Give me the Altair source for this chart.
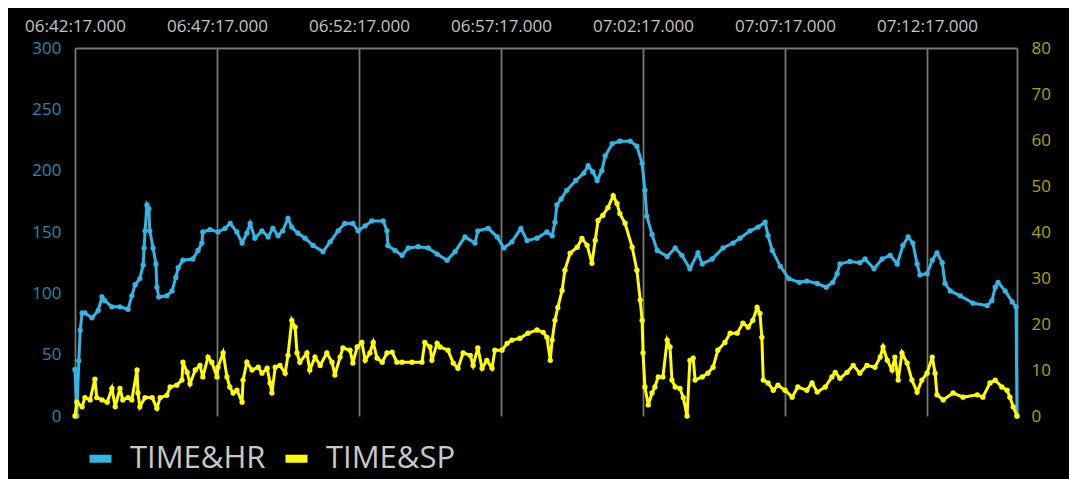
import altair as alt
import pandas as pd

# seconds after 06:42:17 and heart-rate values (TIME&HR)
hr_t = [0, 4, 8, 11, 15, 21, 36, 49, 57, 63,
        78, 95, 112, 120, 127, 137, 144, 146, 148, 152,
        156, 158, 165, 171, 173, 177, 194, 205, 213, 218,
        228, 249, 260, 268, 270, 285, 302, 317, 328, 342,
        353, 363, 370, 380, 395, 408, 418, 429, 439, 450,
        458, 471, 486, 503, 524, 539, 556, 570, 587, 598,
        613, 627, 651, 659, 661, 676, 691, 704, 725, 746,
        765, 786, 803, 824, 845, 851, 873, 892, 906, 923,
        942, 955, 976, 997, 1008, 1014, 1018, 1027, 1039, 1058,
        1075, 1084, 1094, 1103, 1113, 1120, 1135, 1151, 1173, 1187,
        1198, 1204, 1208, 1219, 1230, 1251, 1268, 1282, 1299, 1316,
        1325, 1346, 1369, 1390, 1405, 1426, 1443, 1458, 1464, 1473,
        1490, 1508, 1530, 1546, 1568, 1587, 1601, 1610, 1616, 1637,
        1658, 1669, 1688, 1705, 1722, 1737, 1749, 1760, 1770, 1779,
        1785, 1800, 1811, 1821, 1832, 1838, 1849, 1870, 1897, 1927,
        1937, 1944, 1950, 1965, 1980, 1988, 1990]
hr_v = [38, 0, 45, 70, 84, 84, 80, 86, 97, 94,
        89, 89, 87, 98, 107, 112, 123, 137, 151, 172,
        169, 151, 137, 124, 105, 97, 98, 102, 113, 121,
        127, 128, 135, 141, 150, 152, 150, 153, 157, 150,
        141, 149, 157, 145, 151, 146, 153, 147, 151, 161,
        154, 149, 145, 139, 134, 142, 151, 157, 157, 151,
        155, 159, 159, 151, 139, 135, 131, 137, 138, 137,
        132, 127, 134, 146, 141, 151, 153, 146, 137, 142,
        153, 143, 145, 150, 147, 158, 172, 177, 184, 192,
        198, 204, 199, 192, 200, 212, 222, 224, 224, 220,
        206, 184, 163, 148, 135, 130, 137, 131, 120, 133,
        124, 128, 137, 141, 145, 151, 154, 158, 147, 135,
        122, 112, 109, 110, 108, 105, 109, 116, 124, 126,
        125, 128, 120, 128, 131, 124, 139, 146, 141, 124,
        115, 116, 127, 133, 125, 108, 102, 98, 92, 90,
        94, 105, 109, 102, 93, 89, 0]

# seconds after 06:42:17 and speed values (TIME&SP)
sp_t = [0, 4, 15, 21, 32, 42, 46, 57, 68, 78,
        85, 95, 101, 112, 120, 131, 133, 137, 148, 163,
        173, 180, 194, 201, 215, 226, 228, 237, 243, 254,
        264, 270, 281, 289, 300, 302, 313, 321, 327, 334,
        342, 353, 355, 363, 374, 387, 395, 406, 412, 416,
        423, 433, 444, 450, 458, 465, 469, 475, 490, 496,
        507, 518, 532, 543, 549, 560, 566, 581, 587, 596,
        606, 613, 623, 630, 638, 649, 659, 670, 680, 691,
        712, 733, 739, 750, 754, 765, 771, 788, 799, 809,
        820, 835, 841, 851, 860, 870, 881, 887, 902, 913,
        923, 940, 957, 976, 989, 997, 1004, 1008, 1014, 1020,
        1029, 1035, 1046, 1061, 1071, 1082, 1092, 1099, 1105, 1115,
        1126, 1137, 1145, 1151, 1162, 1177, 1187, 1194, 1198, 1200,
        1204, 1211, 1219, 1225, 1232, 1242, 1251, 1257, 1261, 1268,
        1278, 1285, 1293, 1299, 1306, 1310, 1325, 1337, 1348, 1358,
        1373, 1384, 1399, 1411, 1422, 1432, 1441, 1447, 1451, 1454,
        1464, 1475, 1485, 1500, 1515, 1527, 1546, 1557, 1568, 1585,
        1599, 1606, 1616, 1631, 1644, 1658, 1673, 1690, 1701, 1707,
        1716, 1726, 1732, 1739, 1747, 1758, 1768, 1779, 1789, 1800,
        1811, 1817, 1821, 1834, 1855, 1876, 1906, 1918, 1933, 1944,
        1958, 1969, 1975, 1982, 1990]
sp_v = [0, 3, 2, 4, 3.5, 8, 4, 3.5, 3, 6,
        2, 6, 3.5, 4, 3.5, 10, 5, 2, 4, 4,
        1.7, 4, 4.5, 6.3, 6.7, 7.8, 11.7, 9.5, 7, 10,
        11, 8.5, 12.8, 11.7, 8.5, 10.6, 13.7, 8.5, 6.3, 5,
        5.6, 3, 7.8, 11.7, 10, 10.6, 9.3, 10.4, 7.2, 5,
        10.6, 11, 9.3, 13.2, 20.8, 19.3, 13.7, 11.7, 13.7, 10,
        12.8, 11, 13.7, 11.7, 8.9, 12.8, 14.8, 14.3, 11.5, 15,
        16, 12.1, 13.7, 16, 12.6, 11.7, 13.7, 13.9, 11.7, 11.7,
        11.7, 11.7, 16, 15, 12.1, 15.8, 15, 14.3, 11.5, 10.4,
        13.7, 13.2, 11, 14.8, 10.4, 12.1, 10.4, 14.3, 14.3, 15.8,
        16.5, 16.9, 18, 18.7, 18.2, 17.1, 12.1, 16.5, 20.8, 23.6,
        27.3, 31.7, 35.4, 36.7, 38.6, 37.1, 33.2, 38.2, 42.5, 43.6,
        45.3, 47.9, 46.2, 44, 41.9, 36.7, 31.7, 25.2, 20.8, 13.7,
        6.3, 2.4, 5, 6.3, 8.5, 8.5, 16.5, 15, 7.8, 6.3,
        6, 4, 0, 12.1, 12.6, 7.8, 8.5, 9.3, 10.6, 14.3,
        16, 18, 18, 20.2, 19.3, 20.8, 23.6, 22.3, 17.1, 7.8,
        7.2, 5.6, 6.7, 5.6, 4.1, 6.3, 5.6, 7.2, 5.2, 6.3,
        8.5, 9.5, 8.2, 9.5, 11, 9.3, 11, 10.6, 12.8, 15,
        12.1, 10, 12.8, 7.8, 13.7, 11.5, 7.8, 5.2, 7.8, 9.3,
        12.8, 9.3, 4.6, 3.5, 5, 4.1, 4.6, 4.1, 7.2, 7.8,
        6.3, 5.6, 4.1, 2, 0]

series_names = ["TIME&HR", "TIME&SP"]
series_colors = ["#33b5e5", "#ffff00"]
hr_ticks = [0, 50, 100, 150, 200, 250, 300]
sp_ticks = [0, 10, 20, 30, 40, 50, 60, 70, 80]
tick_times = [(6, 42), (6, 47), (6, 52), (6, 57), (7, 2), (7, 7), (7, 12)]

base = pd.Timestamp("2024-01-01 06:42:17")
hr = pd.DataFrame({"time": [base + pd.Timedelta(seconds=s) for s in hr_t],
                   "value": hr_v, "series": series_names[0]})
sp = pd.DataFrame({"time": [base + pd.Timedelta(seconds=s) for s in sp_t],
                   "value": sp_v, "series": series_names[1]})


def dt(h, m, s):
    return alt.DateTime(year=2024, month=1, date=1, hours=h, minutes=m, seconds=s)


GRID = "#777777"
FONT = "Open Sans"

x_enc = alt.X(
    "time:T",
    scale=alt.Scale(domain=[dt(6, 42, 17), dt(7, 15, 27)], nice=False),
    axis=alt.Axis(orient="top", values=[dt(h, m, 17) for h, m in tick_times],
                  format="%H:%M:%S.%L", title=None, grid=True, gridColor=GRID,
                  gridWidth=1.8, ticks=False, domain=True, domainColor=GRID,
                  domainWidth=1.8, labelPadding=13, labelFontSize=17,
                  labelColor="#c4c4c4", labelFont=FONT, labelFlush=False,
                  labelOverlap=False),
)

legend = alt.Legend(orient="none", legendX=10, legendY=395, direction="horizontal",
                    title=None, symbolType="stroke", symbolSize=484,
                    symbolStrokeWidth=8, labelFontSize=31, labelColor="#c8c8c8",
                    labelFont=FONT, labelOffset=14, columnPadding=3, padding=0)
color_enc = alt.Color("series:N",
                      scale=alt.Scale(domain=series_names, range=series_colors),
                      legend=legend)

pt = alt.OverlayMarkDef(filled=True, size=28)

hr_chart = alt.Chart(hr).mark_line(strokeWidth=3, point=pt).encode(
    x=x_enc,
    y=alt.Y("value:Q", scale=alt.Scale(domain=[0, 300], nice=False),
            axis=alt.Axis(orient="left", values=hr_ticks, title=None, grid=False,
                          ticks=False, domain=False, labelPadding=14,
                          labelFontSize=17, labelColor="#2a86ad", labelFont=FONT)),
    color=color_enc,
)

sp_chart = alt.Chart(sp).mark_line(strokeWidth=3, point=pt).encode(
    x=x_enc,
    y=alt.Y("value:Q", scale=alt.Scale(domain=[0, 80], nice=False),
            axis=alt.Axis(orient="right", values=sp_ticks, title=None, grid=False,
                          ticks=False, domain=True, domainColor=GRID,
                          domainWidth=1.8, labelPadding=14, labelFontSize=17,
                          labelColor="#a8a800", labelFont=FONT)),
    color=color_enc,
)

chart = (
    alt.layer(hr_chart, sp_chart)
    .resolve_scale(y="independent")
    .properties(width=942, height=368,
                autosize=alt.AutoSizeParams(type="none"),
                padding={"left": 67, "top": 40, "right": 52, "bottom": 63})
    .configure(background="black", font=FONT)
    .configure_view(strokeWidth=0)
)

chart.save("out.html", embed_options={"renderer": "svg", "actions": False})
